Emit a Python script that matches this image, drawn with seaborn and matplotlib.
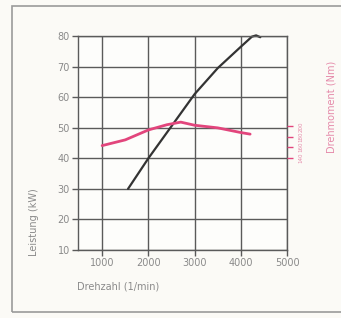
import matplotlib
matplotlib.use("Agg")
import matplotlib.pyplot as plt
import seaborn as sns
import pandas as pd
from matplotlib.patches import Rectangle

# --- Daten ---
drehzahl_leistung = [1560, 2000, 2500, 3000, 3500, 4000, 4240, 4330, 4420]
leistung_kw = [30, 40, 50.5, 61, 69.5, 76.5, 79.8, 80.2, 79.6]

drehzahl_moment = [1000, 1500, 2000, 2400, 2700, 3000, 3500, 4000, 4200]
moment_nm = [163, 174, 193, 203, 208, 202, 197, 188, 185]

x_ticks = [1000, 2000, 3000, 4000, 5000]
y_ticks = [10, 20, 30, 40, 50, 60, 70, 80]
moment_ticks = [140, 160, 180, 200]

GRAU = "#5a5a5a"
PINK = "#e2457c"

sns.set_style("white")
plt.rcParams["font.family"] = ["DejaVu Sans"]

fig = plt.figure(figsize=(3.41, 3.18), dpi=100)
fig.patch.set_facecolor("#fbfaf6")
# Rahmen um die Grafik
fig.patches.append(Rectangle((12 / 341, 6 / 318), 340 / 341, 306 / 318,
                             transform=fig.transFigure, fill=False,
                             edgecolor="#9a9a9a", linewidth=1.2))

ax = fig.add_axes([0.229, 1 - 250 / 318, 0.613, 214 / 318])
ax.set_facecolor("#fdfdfb")

df_p = pd.DataFrame({"Drehzahl": drehzahl_leistung, "Leistung": leistung_kw})
sns.lineplot(data=df_p, x="Drehzahl", y="Leistung", ax=ax, color="#333333",
             linewidth=1.6, clip_on=False)

ax.set_xlim(480, 5000)
ax.set_ylim(10, 80)
ax.set_xticks(x_ticks)
ax.set_yticks(y_ticks)
ax.grid(True, color=GRAU, linewidth=1.0)
for s in ax.spines.values():
    s.set_color(GRAU)
    s.set_linewidth(1.0)
ax.tick_params(axis="both", colors=GRAU, labelcolor="#8a8a8a", labelsize=7,
               length=4, width=1.0, direction="out", left=True, bottom=True, pad=2)
ax.set_xlabel("Drehzahl (1/min)", fontsize=7, color="#8a8a8a")
ax.set_ylabel("Leistung (kW)", fontsize=7, color="#8a8a8a")
ax.xaxis.set_label_coords(0.19, -0.145)
ax.yaxis.set_label_coords(-0.185, 0.13)

# Drehmoment auf zweiter Achse
ax2 = ax.twinx()
df_m = pd.DataFrame({"Drehzahl": drehzahl_moment, "Moment": moment_nm})
sns.lineplot(data=df_m, x="Drehzahl", y="Moment", ax=ax2, color=PINK, linewidth=2.0)
ax2.set_ylim(-37, 373)
ax2.set_yticks(moment_ticks)
ax2.set_yticklabels([str(t) for t in moment_ticks], rotation=90, va="center")
ax2.tick_params(axis="y", colors=PINK, labelcolor="#e58aaa", labelsize=4,
                length=4, width=1.0, direction="out", pad=4)
for s in ax2.spines.values():
    s.set_visible(False)
ax2.set_ylabel("Drehmoment (Nm)", fontsize=7, color="#e58aaa", rotation=90)
ax2.yaxis.set_label_coords(1.19, 0.67)
ax2.grid(False)

fig.savefig("out.png", dpi=100)
